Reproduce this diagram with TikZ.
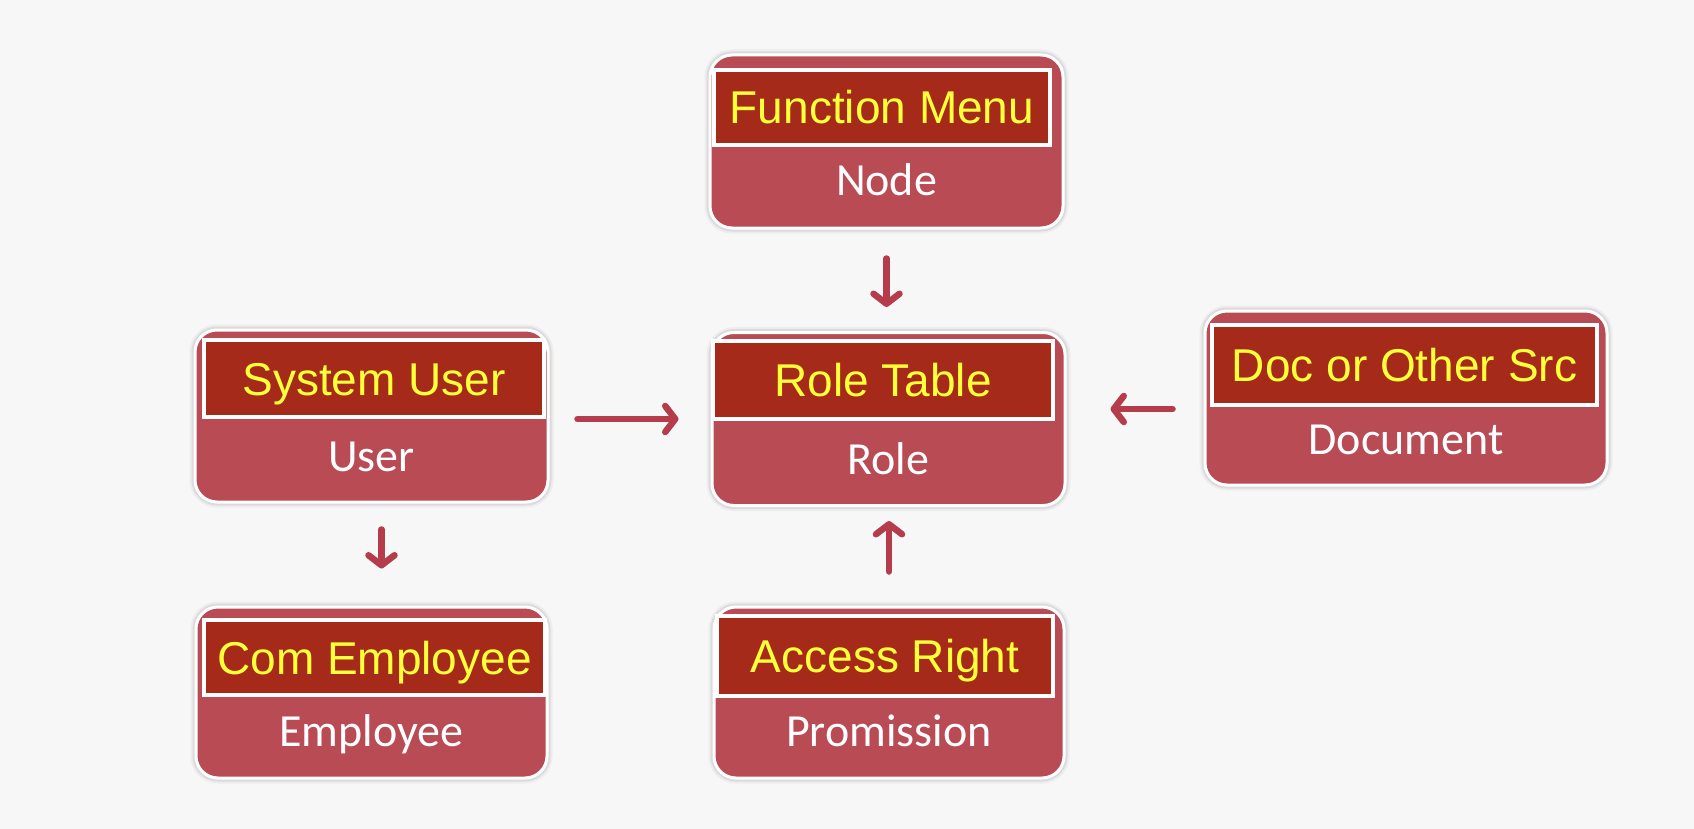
\documentclass[tikz,border=0pt]{standalone}
\usepackage{fontspec}
\setmainfont{Liberation Sans}
\newfontfamily\subfont{Carlito}
\usetikzlibrary{arrows.meta}

\definecolor{boxred}{HTML}{B94B55}
\definecolor{headred}{HTML}{A52A19}
\definecolor{headyellow}{HTML}{FFFF3A}
\definecolor{arrred}{HTML}{B43C4B}
\definecolor{bgcol}{HTML}{F7F7F7}

\tikzset{
    outerbox/.style={rectangle, rounded corners=22pt, fill=boxred, draw=white,
        line width=3pt, inner sep=0pt,
        preaction={draw=black!7, line width=11pt},
        preaction={draw=black!14, line width=7pt}},
    headbox/.style={rectangle, fill=headred, draw=white, line width=4pt,
        inner sep=0pt, text=headyellow, text height=33pt, text depth=0pt,
        font=\fontsize{46}{50}\selectfont},
    subtext/.style={text=white, inner sep=0pt, text height=30pt, text depth=0pt,
        font=\subfont\fontsize{46}{50}\selectfont},
    arr/.style={draw=arrred, line width=6.5pt, line cap=round,
        -{Straight Barb[length=10pt, width=26pt, round]}}
}

\begin{document}
\begin{tikzpicture}[x=1pt, y=-1pt]
        \fill[bgcol] (0,0) rectangle (1694,829);

        % function menu
        \node[outerbox, minimum width=353pt, minimum height=173pt] (func) at (886.5,141.5) {};
        \node[headbox, minimum width=336pt, minimum height=75pt] (funch) at (882,107.5) {Function Menu};
        \node[subtext] (funcs) at (886.5,181) {Node};

        % role table
        \node[outerbox, minimum width=353pt, minimum height=173pt] (role) at (888.5,419) {};
        \node[headbox, minimum width=340pt, minimum height=78pt] (roleh) at (883,380) {Role Table};
        \node[subtext] (roles) at (888.5,459) {Role};

        % system user
        \node[outerbox, minimum width=353pt, minimum height=172pt] (user) at (371.5,416) {};
        \node[headbox, minimum width=340pt, minimum height=77pt] (userh) at (374,378.5) {System User};
        \node[subtext] (users) at (371.5,456) {User};

        % doc or other src
        \node[outerbox, minimum width=402pt, minimum height=174pt] (doc) at (1406,398) {};
        \node[headbox, minimum width=385pt, minimum height=80pt] (doch) at (1404.5,365) {Doc or Other Src};
        \node[subtext] (docs) at (1406,439) {Document};

        % com employee
        \node[outerbox, minimum width=351pt, minimum height=171pt] (emp) at (371.5,692.5) {};
        \node[headbox, minimum width=341pt, minimum height=75pt] (emph) at (374.5,657.5) {Com Employee};
        \node[subtext] (emps) at (371.5,731) {Employee};

        % access right
        \node[outerbox, minimum width=350pt, minimum height=171pt] (perm) at (889,692.5) {};
        \node[headbox, minimum width=336pt, minimum height=80pt] (permh) at (885,656) {Access Right};
        \node[subtext] (perms) at (889,731) {Promission};

        \draw[arr, shorten <=29pt, shorten >=24pt] (func.south) -- (func.south |- role.north);
        \draw[arr, shorten <=28pt, shorten >=32pt] ([yshift=-3pt]user.east) -- ([yshift=-3pt]user.east -| role.west);
        \draw[arr, shorten <=31pt, shorten >=44pt] ([yshift=-11pt]doc.west) -- ([yshift=-11pt]doc.west -| role.east);
        \draw[arr, shorten <=26pt, shorten >=37pt] ([xshift=10pt]user.south) -- ([xshift=10pt]user.south |- emp.north);
        \draw[arr, shorten <=34pt, shorten >=14pt] (perm.north) -- (perm.north |- role.south);
    \end{tikzpicture}
\end{document}
